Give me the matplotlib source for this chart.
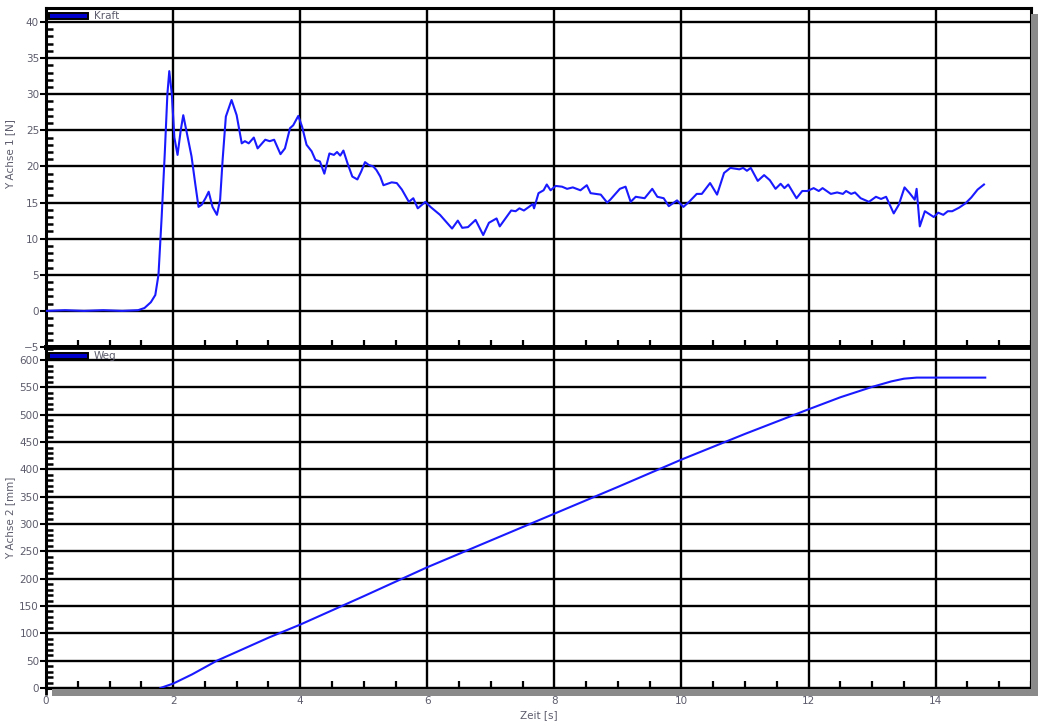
import matplotlib
matplotlib.use("Agg")
import matplotlib.pyplot as plt
from matplotlib.patches import Rectangle
from matplotlib.ticker import MultipleLocator

# Kraft [N] over Zeit [s]
kraft_t = [0.0, 0.3, 0.6, 0.9, 1.2, 1.45, 1.55, 1.65, 1.72, 1.77, 1.82, 1.87, 1.91, 1.94, 1.98,
           2.02, 2.07, 2.12, 2.16, 2.22, 2.29, 2.35, 2.40, 2.45, 2.51, 2.56, 2.62, 2.69, 2.74, 2.78,
           2.83, 2.92, 3.00, 3.08, 3.13, 3.19, 3.27, 3.33, 3.45, 3.52, 3.59, 3.69, 3.76, 3.84, 3.89,
           3.97, 4.03, 4.10, 4.18, 4.24, 4.31, 4.38, 4.46, 4.53, 4.58, 4.63, 4.68, 4.75, 4.82, 4.90,
           4.96, 5.02, 5.08, 5.15, 5.20, 5.26, 5.31, 5.44, 5.52, 5.60, 5.71, 5.78, 5.85, 5.97, 6.05,
           6.20, 6.39, 6.48, 6.55, 6.64, 6.76, 6.88, 6.97, 7.09, 7.14, 7.23, 7.32, 7.39, 7.45, 7.52,
           7.60, 7.66, 7.68, 7.75, 7.83, 7.88, 7.94, 8.02, 8.12, 8.20, 8.29, 8.41, 8.51, 8.57, 8.73,
           8.83, 8.88, 9.03, 9.12, 9.20, 9.28, 9.42, 9.54, 9.62, 9.72, 9.80, 9.93, 10.03, 10.12, 10.24,
           10.32, 10.45, 10.56, 10.67, 10.77, 10.91, 10.97, 11.03, 11.09, 11.20, 11.30, 11.39, 11.48,
           11.56, 11.62, 11.68, 11.81, 11.90, 11.98, 12.08, 12.16, 12.22, 12.35, 12.45, 12.54, 12.59,
           12.67, 12.73, 12.82, 12.95, 13.06, 13.14, 13.22, 13.34, 13.42, 13.51, 13.59, 13.67, 13.70,
           13.75, 13.83, 13.90, 13.97, 14.04, 14.12, 14.19, 14.26, 14.37, 14.47, 14.56, 14.66, 14.76]
kraft_n = [0.0, 0.1, 0.0, 0.1, 0.0, 0.1, 0.4, 1.2, 2.2, 5.0, 13.0, 22.0, 30.0, 33.2, 30.0,
           24.0, 21.6, 25.0, 27.1, 24.5, 21.4, 17.5, 14.4, 14.7, 15.6, 16.5, 14.4, 13.3, 15.4, 21.0,
           26.9, 29.2, 27.1, 23.2, 23.5, 23.2, 24.0, 22.5, 23.7, 23.5, 23.7, 21.7, 22.5, 25.3, 25.7,
           27.0, 25.5, 23.0, 22.1, 20.9, 20.7, 19.0, 21.8, 21.6, 22.0, 21.5, 22.2, 20.3, 18.6, 18.2,
           19.3, 20.6, 20.2, 20.0, 19.5, 18.6, 17.4, 17.8, 17.7, 16.8, 15.1, 15.6, 14.2, 15.1, 14.4,
           13.3, 11.4, 12.5, 11.5, 11.6, 12.6, 10.5, 12.2, 12.8, 11.7, 12.8, 13.9, 13.8, 14.2, 13.9,
           14.4, 14.8, 14.2, 16.3, 16.7, 17.5, 16.7, 17.3, 17.2, 16.9, 17.1, 16.7, 17.4, 16.3, 16.1,
           15.0, 15.4, 16.9, 17.2, 15.1, 15.8, 15.6, 16.9, 15.8, 15.6, 14.5, 15.3, 14.4, 15.1, 16.2,
           16.2, 17.7, 16.1, 19.1, 19.8, 19.6, 19.8, 19.4, 19.8, 18.0, 18.8, 18.1, 16.9,
           17.6, 17.0, 17.5, 15.6, 16.6, 16.6, 17.0, 16.6, 17.0, 16.2, 16.4, 16.2, 16.6,
           16.2, 16.4, 15.6, 15.1, 15.8, 15.5, 15.8, 13.5, 14.7, 17.1, 16.3, 15.4, 16.9,
           11.7, 13.8, 13.4, 13.0, 13.6, 13.3, 13.8, 13.8, 14.3, 14.9, 15.7, 16.8, 17.5]

# Weg [mm] over Zeit [s]
weg_t = [1.80, 2.00, 2.30, 2.69, 3.00, 3.50, 4.00, 5.00, 6.00, 7.00, 8.00, 9.00, 10.00,
         11.00, 12.00, 12.50, 13.00, 13.30, 13.50, 13.70, 14.78]
weg_mm = [0, 8, 25, 50, 66, 92, 116, 168, 221, 270, 319, 368, 418,
          465, 510, 532, 551, 561, 566, 568, 568]

x_ticks = [0, 2, 4, 6, 8, 10, 12, 14]
y1_ticks = [-5, 0, 5, 10, 15, 20, 25, 30, 35, 40]
y2_ticks = list(range(0, 601, 50))

W, H = 1050, 725
LINE = "#1a1aff"
TXT = "#5c5c6c"

fig = plt.figure(figsize=(W / 100, H / 100), dpi=100)
fig.patch.set_facecolor("white")

left, right = 46 / W, 1031 / W


def fy(py):
    return 1 - py / H


ax1 = fig.add_axes([left, fy(347), right - left, fy(8) - fy(347)])
ax2 = fig.add_axes([left, fy(688), right - left, fy(347) - fy(688)])

# drop shadow along the right side and below the plots
fig.patches.append(Rectangle((1031 / W, fy(696)), 7 / W, fy(14) - fy(696),
                             transform=fig.transFigure, facecolor="#8a8a8a",
                             edgecolor="none", zorder=0))
fig.patches.append(Rectangle((52 / W, fy(696)), (1038 - 52) / W, 7 / H,
                             transform=fig.transFigure, facecolor="#8a8a8a",
                             edgecolor="none", zorder=0))


def style(ax, ymin, ymax, yticks, yminor):
    ax.set_xlim(0, 15.5)
    ax.set_ylim(ymin, ymax)
    ax.set_xticks(x_ticks)
    ax.set_yticks(yticks)
    ax.xaxis.set_minor_locator(MultipleLocator(0.5))
    ax.yaxis.set_minor_locator(MultipleLocator(yminor))
    for v in x_ticks[1:]:
        ax.axvline(v, color="black", lw=1.7, zorder=1)
    for v in yticks:
        ax.axhline(v, color="black", lw=1.7, zorder=1)
    for s in ax.spines.values():
        s.set_color("black")
        s.set_linewidth(2.2)
    ax.tick_params(axis="y", which="major", direction="out", length=4, width=1.5,
                   labelsize=7.5, labelcolor=TXT, pad=1)
    ax.tick_params(axis="y", which="minor", direction="in", length=5, width=1.8)
    ax.tick_params(axis="x", which="minor", direction="in", length=5, width=1.6)
    ax.tick_params(axis="x", which="major", direction="out", length=5, width=2,
                   labelsize=7.5, labelcolor=TXT, pad=1)
    ax.set_facecolor("white")


style(ax1, -5, 41.94, y1_ticks, 1)
style(ax2, 0, 624, y2_ticks, 10)
ax1.tick_params(axis="x", which="major", labelbottom=False, length=0)
ax1.spines["bottom"].set_linewidth(3.5)
ax2.spines["top"].set_linewidth(3.5)

ax1.plot(kraft_t, kraft_n, color=LINE, lw=1.5, zorder=3)
ax2.plot(weg_t, weg_mm, color=LINE, lw=1.5, zorder=3)

ax1.set_ylabel("Y Achse 1 [N]", fontsize=7.5, color=TXT)
ax2.set_ylabel("Y Achse 2 [mm]", fontsize=7.5, color=TXT)
ax1.yaxis.set_label_coords(-0.031, 0.57)
ax2.yaxis.set_label_coords(-0.031, 0.5)
ax2.set_xlabel("Zeit [s]", fontsize=7.5, color=TXT, labelpad=3)

# legend entries in the top-left corner of each panel
for name, ypx in (("Kraft", 16), ("Weg", 356)):
    fig.patches.append(Rectangle((49 / W, fy(ypx + 3)), 39 / W, 6 / H,
                                 transform=fig.transFigure, facecolor="#0000cc",
                                 edgecolor="black", lw=1.4, zorder=5))
    fig.text(94 / W, fy(ypx), name, fontsize=7.5, color=TXT, va="center", ha="left")

fig.savefig("out.png", dpi=100)
